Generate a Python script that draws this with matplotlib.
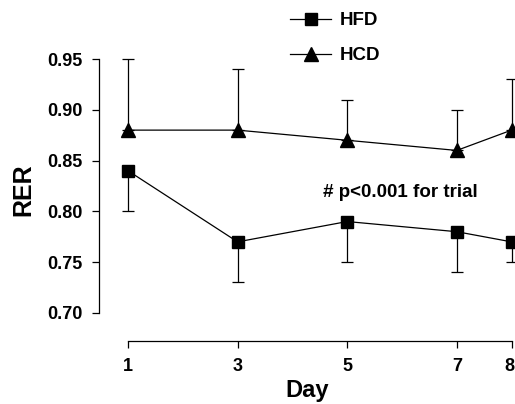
import matplotlib
matplotlib.use('Agg')
import matplotlib.pyplot as plt
import matplotlib.transforms as mtransforms

plt.rcParams['font.family'] = ['Liberation Sans', 'DejaVu Sans']
plt.rcParams['font.weight'] = 'bold'

days = [1, 3, 5, 7, 8]
hfd = [0.84, 0.77, 0.79, 0.78, 0.77]
hfd_err = [0.04, 0.04, 0.04, 0.04, 0.02]
hcd = [0.88, 0.88, 0.87, 0.86, 0.88]
hcd_err = [0.07, 0.06, 0.04, 0.04, 0.05]
yticks = [0.70, 0.75, 0.80, 0.85, 0.90, 0.95]

fig = plt.figure(figsize=(5.15, 4.04), dpi=100)
ax = fig.add_axes([99/515, 63/404, 416.4/515, 302.3/404])

# one-sided error bars: HFD down, HCD up
ax.errorbar(days, hfd, yerr=[hfd_err, [0]*5], fmt='none', ecolor='black',
            elinewidth=0.9, capsize=4.3, capthick=0.9, clip_on=False)
ax.errorbar(days, hcd, yerr=[[0]*5, hcd_err], fmt='none', ecolor='black',
            elinewidth=0.9, capsize=4.3, capthick=0.9, clip_on=False)
l1, = ax.plot(days, hfd, color='black', lw=0.9, marker='s', ms=9, clip_on=False, label='HFD')
l2, = ax.plot(days, hcd, color='black', lw=0.9, marker='^', ms=10, clip_on=False, label='HCD')

ax.set_xlim(0.4708, 8.07)
ax.set_ylim(0.6724, 0.97)
for s in ['top', 'right']:
    ax.spines[s].set_visible(False)
ax.spines['left'].set_position(('data', 0.4708))
ax.spines['bottom'].set_position(('data', 0.6724))
ax.spines['left'].set_bounds(0.70, 0.95)
ax.spines['bottom'].set_bounds(1, 8)
ax.spines['left'].set_linewidth(0.9)
ax.spines['bottom'].set_linewidth(0.9)

ax.set_xticks(days)
ax.set_xticklabels([str(d) for d in days])
ax.set_yticks(yticks)
ax.set_yticklabels(['%.2f' % v for v in yticks])
ax.tick_params(axis='both', labelsize=13, width=0.9, length=5, pad=7)
for lab in ax.get_xticklabels() + ax.get_yticklabels():
    lab.set_fontweight('bold')

# keep the last day label inside the figure edge
last = ax.get_xticklabels()[-1]
last.set_ha('right')
last.set_transform(last.get_transform() +
                   mtransforms.ScaledTranslation(3/100, 0, fig.dpi_scale_trans))

ax.set_xlabel('Day', fontsize=17, fontweight='bold', labelpad=3)
ax.set_ylabel('RER', fontsize=18, fontweight='bold', labelpad=8)

ax.text(4.56, 0.819, '# p<0.001 for trial', transform=ax.transData,
        fontsize=13.5, fontweight='bold', ha='left', va='center')

fig.legend(handles=[l1, l2], loc='upper left', bbox_to_anchor=(290/515, 1 - 12/404),
           frameon=False, fontsize=13.5, handlelength=2.2, handletextpad=0.45,
           labelspacing=0.95, borderpad=0, borderaxespad=0)

fig.savefig('out.png', dpi=100)
